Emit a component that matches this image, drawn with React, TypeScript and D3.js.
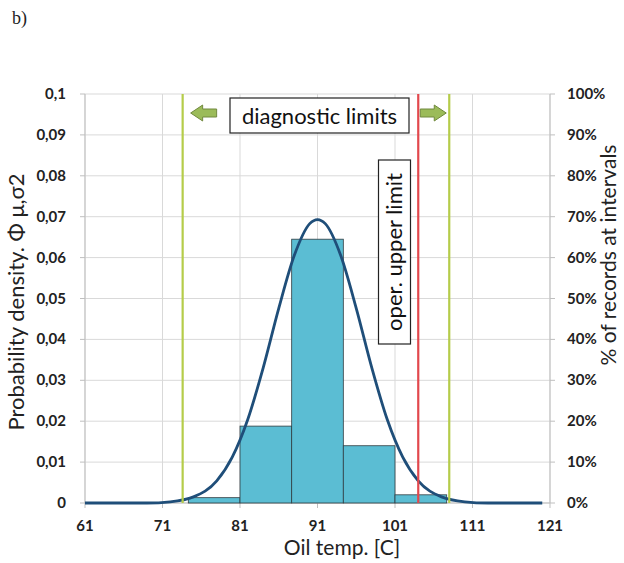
import React from 'react';
import * as d3 from 'd3';

// histogram of records (bin edges in °C, share of records in %)
const binEdges = [74.33, 81, 87.67, 94.33, 101, 107.67];
const binPercent = [1.3, 18.8, 64.5, 14.0, 2.0];

// probability density curve
const curveX = [61, 65, 69, 72, 75, 78, 80, 82, 84, 86, 88, 90, 91, 92, 94, 96, 98, 100, 102, 104, 107, 110, 113, 116, 120];
const curveY = [0, 0, 0, 0.0003, 0.0015, 0.0054, 0.0112, 0.0204, 0.0331, 0.0476, 0.0605, 0.0683, 0.0693, 0.0683, 0.0605, 0.0476, 0.0331, 0.0204, 0.0112, 0.0054, 0.0015, 0.0003, 0, 0, 0];

const xTicks = [61, 71, 81, 91, 101, 111, 121];
const yTicks = [0, 0.01, 0.02, 0.03, 0.04, 0.05, 0.06, 0.07, 0.08, 0.09, 0.1];
const yTickLabels = ['0', '0,01', '0,02', '0,03', '0,04', '0,05', '0,06', '0,07', '0,08', '0,09', '0,1'];
const pctTicks = [0, 10, 20, 30, 40, 50, 60, 70, 80, 90, 100];

const diagnosticLimits = [73.6, 108];
const operUpperLimit = 104;

const W = 624;
const H = 563;
const margin = { top: 94, right: 74, bottom: 60, left: 85 };
const font = 'Lato, "Open Sans", sans-serif';

export default function App() {
  const x = d3.scaleLinear().domain([61, 121]).range([margin.left, W - margin.right]);
  const y = d3.scaleLinear().domain([0, 0.1]).range([H - margin.bottom, margin.top]);
  const yPct = d3.scaleLinear().domain([0, 100]).range([H - margin.bottom, margin.top]);

  const line = d3.line<number>()
    .x((_, i) => x(curveX[i]))
    .y(d => y(d))
    .curve(d3.curveMonotoneX);

  const x0 = x.range()[0];
  const x1 = x.range()[1];
  const yb = y.range()[0];
  const yt = y.range()[1];

  const limitColor = '#b5cc4a';
  const arrowFill = '#9bbb59';
  const arrowStroke = '#71893f';
  const arrowY = 113;

  // block arrows pointing away from the box
  const arrowPath = (tip: number, dir: number) => {
    const head = 12, len = 26, body = 4, half = 8;
    const b = tip + dir * head;
    const e = tip + dir * len;
    return `M${tip},${arrowY} L${b},${arrowY - half} L${b},${arrowY - body} L${e},${arrowY - body} L${e},${arrowY + body} L${b},${arrowY + body} L${b},${arrowY + half} Z`;
  };

  return (
    <svg width={W} height={H} style={{ position: 'absolute', left: 0, top: 0, background: '#fff' }}>
      <text x={12} y={24} fontFamily='"Liberation Serif", serif' fontSize={18} fill="#222">b)</text>

      {/* grid */}
      {yTicks.map(t => (
        <line key={'h' + t} x1={x0} x2={x1} y1={y(t)} y2={y(t)} stroke="#d9d9d9" strokeWidth={1} />
      ))}
      {xTicks.map(t => (
        <line key={'v' + t} x1={x(t)} x2={x(t)} y1={yt} y2={yb} stroke="#d9d9d9" strokeWidth={1} />
      ))}

      {/* axes */}
      <line x1={x0} x2={x0} y1={yt} y2={yb} stroke="#bfbfbf" />
      <line x1={x1} x2={x1} y1={yt} y2={yb} stroke="#bfbfbf" />
      <line x1={x0} x2={x1} y1={yb} y2={yb} stroke="#bfbfbf" />
      {yTicks.map(t => (
        <line key={'lt' + t} x1={x0 - 5} x2={x0} y1={y(t)} y2={y(t)} stroke="#bfbfbf" />
      ))}
      {pctTicks.map(t => (
        <line key={'rt' + t} x1={x1} x2={x1 + 5} y1={yPct(t)} y2={yPct(t)} stroke="#bfbfbf" />
      ))}
      {xTicks.map(t => (
        <line key={'bt' + t} x1={x(t)} x2={x(t)} y1={yb} y2={yb + 5} stroke="#bfbfbf" />
      ))}

      {/* histogram */}
      {binPercent.map((p, i) => (
        <rect key={'b' + i}
          x={x(binEdges[i])} width={x(binEdges[i + 1]) - x(binEdges[i])}
          y={yPct(p)} height={yb - yPct(p)}
          fill="#5bbdd3" stroke="#2f3b40" strokeWidth={0.8} />
      ))}

      {/* density curve */}
      <path d={line(curveY) || ''} fill="none" stroke="#1f4e79" strokeWidth={2.8} />

      {/* limits */}
      {diagnosticLimits.map(v => (
        <line key={'d' + v} x1={x(v)} x2={x(v)} y1={yt} y2={yb} stroke={limitColor} strokeWidth={2.2} />
      ))}
      <line x1={x(operUpperLimit)} x2={x(operUpperLimit)} y1={yt} y2={yb} stroke="#e2484d" strokeWidth={2.2} />

      <path d={arrowPath(x(diagnosticLimits[0]) + 8, 1)} fill={arrowFill} stroke={arrowStroke} strokeWidth={1} />
      <path d={arrowPath(x(diagnosticLimits[1]) - 3, -1)} fill={arrowFill} stroke={arrowStroke} strokeWidth={1} />

      <rect x={230} y={98} width={179} height={35} fill="#fff" stroke="#222" strokeWidth={1.2} />
      <text x={319.5} y={123.5} textAnchor="middle" fontFamily={font} fontSize={22} fill="#111">diagnostic limits</text>

      <rect x={378.5} y={160} width={32} height={184} fill="#fff" stroke="#222" strokeWidth={1.2} />
      <text transform={`translate(402,252) rotate(-90)`} textAnchor="middle" fontFamily={font} fontSize={22} fill="#111">oper. upper limit</text>

      {/* tick labels */}
      {yTicks.map((t, i) => (
        <text key={'yl' + t} x={66} y={y(t) + 5} textAnchor="end" fontFamily={font} fontWeight="bold" fontSize={15} fill="#222">{yTickLabels[i]}</text>
      ))}
      {pctTicks.map(t => (
        <text key={'pl' + t} x={567} y={yPct(t) + 5} textAnchor="start" fontFamily={font} fontWeight="bold" fontSize={15} fill="#222">{t}%</text>
      ))}
      {xTicks.map(t => (
        <text key={'xl' + t} x={x(t)} y={531} textAnchor="middle" fontFamily={font} fontWeight="bold" fontSize={15} fill="#222">{t}</text>
      ))}

      {/* axis titles */}
      <text x={342} y={555} textAnchor="middle" fontFamily={font} fontSize={21} fill="#222">Oil temp. [C]</text>
      <text transform={`translate(24,302) rotate(-90)`} textAnchor="middle" fontFamily={font} fontSize={22} fill="#222">Probability density. Φ μ,σ2</text>
      <text transform={`translate(616,255) rotate(-90)`} textAnchor="middle" fontFamily={font} fontSize={21} fill="#222">% of records at intervals</text>
    </svg>
  );
}
